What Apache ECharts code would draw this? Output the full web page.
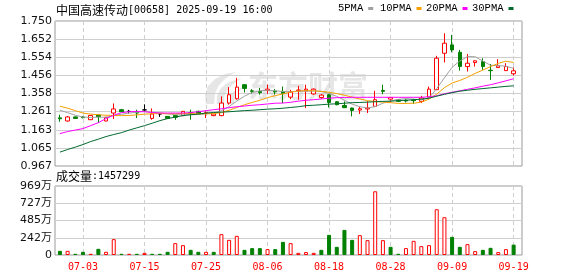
<!DOCTYPE html>
<html><head><meta charset="utf-8">
<script src="https://cdn.jsdelivr.net/npm/echarts@6/dist/echarts.min.js"></script>
<style>html,body{margin:0;padding:0;background:#fff}#c{width:578px;height:276px}</style>
</head><body><div id="c"></div>
<script>
const stockTitle = '中国高速传动[00658]';
const stockTime = '2025-09-19 16:00';
const dates = ['06-27','06-30','07-02','07-03','07-04','07-07','07-08','07-09','07-10','07-11','07-14','07-15','07-16','07-17','07-18','07-21','07-22','07-23','07-24','07-25','07-28','07-29','07-30','07-31','08-01','08-04','08-05','08-06','08-07','08-08','08-11','08-12','08-13','08-14','08-15','08-18','08-19','08-20','08-21','08-22','08-25','08-26','08-27','08-28','08-29','09-01','09-02','09-03','09-04','09-05','09-08','09-09','09-10','09-11','09-12','09-15','09-16','09-17','09-18','09-19'];
// [open, close, low, high]
const ohlc = [
[1.227,1.222,1.206,1.244],[1.210,1.232,1.207,1.237],[1.232,1.224,1.222,1.235],[1.232,1.228,1.224,1.236],
[1.217,1.240,1.215,1.242],[1.242,1.233,1.199,1.243],[1.210,1.230,1.208,1.232],[1.253,1.275,1.221,1.305],
[1.271,1.260,1.258,1.275],[1.262,1.262,1.250,1.270],[1.258,1.253,1.226,1.271],[1.270,1.270,1.262,1.300],
[1.224,1.248,1.217,1.278],[1.248,1.248,1.232,1.253],[1.235,1.224,1.222,1.237],[1.240,1.230,1.217,1.243],
[1.239,1.262,1.237,1.264],[1.255,1.250,1.217,1.271],[1.262,1.250,1.248,1.266],[1.250,1.255,1.226,1.262],
[1.239,1.248,1.236,1.250],[1.239,1.307,1.236,1.343],[1.307,1.352,1.298,1.393],[1.330,1.393,1.325,1.443],
[1.406,1.386,1.364,1.410],[1.373,1.370,1.357,1.382],[1.370,1.363,1.352,1.388],[1.375,1.382,1.357,1.406],
[1.372,1.367,1.353,1.382],[1.370,1.359,1.307,1.396],[1.339,1.366,1.328,1.378],[1.375,1.377,1.325,1.400],
[1.373,1.382,1.280,1.406],[1.356,1.382,1.352,1.386],[1.337,1.350,1.330,1.356],[1.352,1.310,1.283,1.355],
[1.314,1.298,1.295,1.316],[1.294,1.282,1.280,1.316],[1.280,1.267,1.235,1.282],[1.269,1.276,1.248,1.286],
[1.275,1.280,1.253,1.316],[1.289,1.325,1.287,1.373],[1.375,1.370,1.355,1.406],[1.328,1.337,1.310,1.340],
[1.325,1.316,1.314,1.327],[1.322,1.318,1.310,1.328],[1.323,1.320,1.303,1.330],[1.316,1.334,1.307,1.346],
[1.339,1.382,1.337,1.396],[1.379,1.549,1.377,1.562],[1.576,1.630,1.526,1.684],[1.621,1.594,1.581,1.675],
[1.581,1.504,1.482,1.594],[1.504,1.522,1.477,1.572],[1.526,1.535,1.504,1.537],[1.531,1.504,1.486,1.549],
[1.484,1.482,1.432,1.518],[1.499,1.508,1.497,1.544],[1.482,1.504,1.480,1.522],[1.465,1.481,1.456,1.499]
];
const volumes = [588000,588000,168000,448000,168000,868000,448000,2226000,168000,168000,168000,308000,168000,168000,448000,1666000,1386000,728000,448000,448000,448000,2927000,2128000,2689000,728000,966000,966000,826000,826000,1848000,1666000,308000,406000,308000,728000,2829000,1148000,3529000,2128000,2787000,2086000,8948000,2086000,1148000,168000,966000,1988000,1246000,1386000,6427000,5307000,2549000,1148000,1526000,546000,728000,1008000,406000,826000,1457299];
// 1 = red (up), 0 = green (down)
const volUp = [0,1,0,0,1,0,1,1,0,1,0,1,0,0,0,1,1,0,0,1,0,1,1,1,0,0,0,1,0,0,1,1,1,1,0,0,0,0,0,1,1,1,1,0,0,1,1,1,1,1,1,0,0,1,1,0,0,1,1,0];
const ma5 = [1.268,1.255,1.241,1.231,1.229,1.231,1.230,1.240,1.246,1.253,1.257,1.262,1.257,1.254,1.249,1.244,1.243,1.244,1.245,1.249,1.252,1.265,1.288,1.318,1.344,1.364,1.373,1.376,1.373,1.369,1.368,1.370,1.371,1.372,1.370,1.359,1.343,1.322,1.301,1.287,1.280,1.288,1.306,1.319,1.327,1.331,1.328,1.324,1.335,1.385,1.443,1.500,1.534,1.558,1.557,1.534,1.511,1.509,1.506,1.494];
const ma10 = [1.290,1.279,1.266,1.253,1.247,1.244,1.241,1.240,1.239,1.240,1.243,1.247,1.249,1.250,1.249,1.249,1.251,1.250,1.249,1.249,1.250,1.255,1.268,1.283,1.298,1.310,1.322,1.336,1.347,1.356,1.366,1.372,1.374,1.373,1.370,1.365,1.358,1.349,1.339,1.329,1.320,1.315,1.312,1.309,1.305,1.305,1.306,1.312,1.328,1.355,1.390,1.415,1.429,1.446,1.467,1.485,1.504,1.521,1.533,1.526];
const ma20 = [1.142,1.153,1.161,1.169,1.185,1.201,1.223,1.241,1.255,1.260,1.262,1.260,1.256,1.253,1.253,1.253,1.253,1.255,1.260,1.266,1.271,1.276,1.282,1.287,1.291,1.295,1.298,1.302,1.306,1.307,1.311,1.317,1.322,1.325,1.329,1.333,1.336,1.337,1.338,1.338,1.338,1.338,1.338,1.338,1.338,1.338,1.338,1.338,1.341,1.346,1.357,1.365,1.373,1.381,1.389,1.398,1.406,1.416,1.427,1.438];
const ma30 = [1.042,1.056,1.069,1.083,1.099,1.112,1.126,1.137,1.147,1.161,1.173,1.185,1.198,1.212,1.223,1.231,1.239,1.244,1.247,1.253,1.256,1.258,1.260,1.263,1.266,1.268,1.271,1.274,1.276,1.279,1.283,1.287,1.293,1.295,1.298,1.301,1.303,1.306,1.309,1.310,1.312,1.314,1.316,1.317,1.320,1.322,1.325,1.328,1.333,1.344,1.354,1.363,1.371,1.376,1.381,1.385,1.389,1.393,1.397,1.400];
const maNames = ['5PMA','10PMA','20PMA','30PMA'];
const maColors = ['#a0a0a0','#f5a000','#ff00ff','#006a30'];
const priceTicks = ['0.967','1.065','1.163','1.261','1.358','1.456','1.554','1.652','1.750'];
const volTicks = ['0','242万','485万','727万','969万'];
const xLabelIdx = [3,11,19,27,35,43,51,59];

const PMIN = 0.967, PMAX = 1.750, PINT = (PMAX - PMIN) / 8;
const VMAX = 9690000, VINT = VMAX / 4;
const XMIN = -0.64, XMAX = 60.09;

const chart = echarts.init(document.getElementById('c'), null, {renderer: 'canvas'});
const gridLine = {color: '#cfcfcf', width: 1};
const dashLine = {color: '#cfcfcf', width: 1, type: [4, 3]};
const mas = [ma5, ma10, ma20, ma30];
const legendLefts = [338, 380, 426, 472];
const wm = '#e6e6e6';
const richTitle = {
  a: {fontFamily: 'Noto Sans CJK SC', fontSize: 12, fontWeight: 'normal', color: '#000'},
  b: {fontFamily: 'DejaVu Sans Mono', fontSize: 10, fontWeight: 'normal', color: '#000'}
};
const logoShapes = [
  [[206,104],[205,95],[208,86],[215,79],[225,74],[236,72],[226,78],[219,85],[215,93],[214,104]],
  [[217,104],[217,96],[221,88],[229,82],[242,78],[233,84],[227,90],[224,97],[224,104]],
  [[227,104],[229,97],[234,91],[246,86],[239,91],[235,97],[234,104]]
];

const option = {
  animation: false,
  backgroundColor: '#fff',
  title: [
    {text: '{a|' + stockTitle.slice(0, 6) + '}{b|' + stockTitle.slice(6) + ' ' + stockTime + '}', left: 56, top: 4, padding: 0,
     textStyle: {fontWeight: 'normal', rich: richTitle}},
    {text: '{a|成交量}{b|:' + volumes[volumes.length - 1] + '}', left: 56, top: 170, padding: 0,
     textStyle: {fontWeight: 'normal', rich: richTitle}}
  ],
  legend: maNames.map((n, k) => ({
    data: [n], left: legendLefts[k], top: 3, padding: 0, align: 'right', icon: 'rect',
    itemWidth: 5, itemHeight: 3, selectedMode: false,
    textStyle: {fontFamily: 'Liberation Mono', fontSize: 10.5, color: '#000', padding: [0, 0, 0, 0]}
  })),
  graphic: [
    ...logoShapes.map(p => ({type: 'polygon', z: -1, silent: true, shape: {points: p}, style: {fill: wm}})),
    {type: 'text', left: 248, top: 71, z: -1, silent: true,
     style: {text: '东方财富', fill: wm, font: 'bold 30px "Noto Sans CJK SC"'}}
  ],
  grid: [
    {left: 55, top: 21, width: 467, height: 145, show: true, borderColor: '#999', borderWidth: 1, outerBoundsMode: 'none'},
    {left: 55, top: 186, width: 467, height: 69, show: true, borderColor: '#999', borderWidth: 1, outerBoundsMode: 'none'}
  ],
  xAxis: [
    {type: 'value', gridIndex: 0, min: XMIN, max: XMAX, axisLine: {show: false},
     axisTick: {show: false, customValues: xLabelIdx}, axisLabel: {show: false, customValues: xLabelIdx},
     splitLine: {show: true, lineStyle: dashLine}},
    {type: 'value', gridIndex: 1, min: XMIN, max: XMAX, axisLine: {show: false},
     axisTick: {show: false, customValues: xLabelIdx},
     axisLabel: {customValues: xLabelIdx, formatter: v => dates[Math.round(v)], color: '#ff0000',
                 fontFamily: 'DejaVu Sans Mono', fontSize: 10, margin: 7},
     splitLine: {show: true, lineStyle: dashLine}}
  ],
  yAxis: [
    {type: 'value', gridIndex: 0, min: PMIN, max: PMAX, interval: PINT, axisLine: {show: false}, axisTick: {show: false},
     axisLabel: {formatter: v => priceTicks[Math.round((v - PMIN) / PINT)], color: '#111', fontFamily: 'DejaVu Sans', fontSize: 11, margin: 3},
     splitLine: {show: true, lineStyle: gridLine}},
    {type: 'value', gridIndex: 1, min: 0, max: VMAX, interval: VINT, axisLine: {show: false}, axisTick: {show: false},
     axisLabel: {formatter: v => volTicks[Math.round(v / VINT)], color: '#111', fontFamily: 'DejaVu Sans, Noto Sans CJK SC', fontSize: 11, margin: 3},
     splitLine: {show: true, lineStyle: gridLine}}
  ],
  series: [
    {type: 'candlestick', xAxisIndex: 0, yAxisIndex: 0, barWidth: 4, z: 2,
     data: ohlc.map((d, i) => [i, d[0], d[1], d[2], d[3]]),
     itemStyle: {color: '#ffffff', color0: '#008000', borderColor: '#ff0000', borderColor0: '#008000', borderColorDoji: '#000000', borderWidth: 1}},
    ...mas.map((m, k) => ({
      type: 'line', name: maNames[k], xAxisIndex: 0, yAxisIndex: 0, z: 3,
      data: m.map((v, i) => [i, v]), showSymbol: false, symbol: 'none',
      lineStyle: {width: 1, color: maColors[k]}, itemStyle: {color: maColors[k]}
    })),
    {type: 'bar', xAxisIndex: 1, yAxisIndex: 1, barWidth: 4,
     data: volumes.map((v, i) => ({value: [i, v], itemStyle: volUp[i]
        ? {color: '#ffffff', borderColor: '#ff0000', borderWidth: 1}
        : {color: '#008000', borderColor: '#008000', borderWidth: 1}}))}
  ]
};
chart.setOption(option);
</script></body></html>
